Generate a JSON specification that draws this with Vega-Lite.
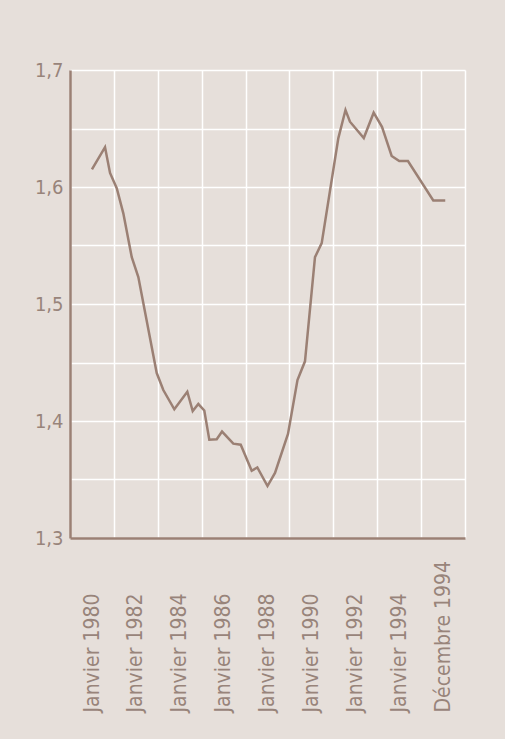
{
  "$schema": "https://vega.github.io/schema/vega-lite/v6.json",
  "width": 395,
  "height": 468,
  "autosize": {"type": "none"},
  "padding": {"left": 70, "top": 70, "right": 40, "bottom": 201},
  "background": "#e6dfda",
  "config": {
    "view": {"stroke": null},
    "font": "'DejaVu Sans Condensed', 'Liberation Sans Narrow', sans-serif"
  },
  "data": {
    "values": [
      {"t": 0.0, "v": 1.615},
      {"t": 0.298, "v": 1.634},
      {"t": 0.412, "v": 1.612},
      {"t": 0.565, "v": 1.599},
      {"t": 0.715, "v": 1.5775},
      {"t": 0.907, "v": 1.540},
      {"t": 1.057, "v": 1.523},
      {"t": 1.476, "v": 1.441},
      {"t": 1.626, "v": 1.4265},
      {"t": 1.877, "v": 1.410},
      {"t": 2.173, "v": 1.425},
      {"t": 2.296, "v": 1.4085},
      {"t": 2.424, "v": 1.4145},
      {"t": 2.560, "v": 1.409},
      {"t": 2.674, "v": 1.384},
      {"t": 2.843, "v": 1.3844},
      {"t": 2.964, "v": 1.391},
      {"t": 3.221, "v": 1.3806},
      {"t": 3.390, "v": 1.3797},
      {"t": 3.640, "v": 1.3575},
      {"t": 3.768, "v": 1.3603},
      {"t": 4.0, "v": 1.3444},
      {"t": 4.171, "v": 1.3556},
      {"t": 4.467, "v": 1.389},
      {"t": 4.683, "v": 1.435},
      {"t": 4.854, "v": 1.451},
      {"t": 5.082, "v": 1.540},
      {"t": 5.235, "v": 1.552},
      {"t": 5.613, "v": 1.6416},
      {"t": 5.777, "v": 1.6658},
      {"t": 5.879, "v": 1.6558},
      {"t": 6.194, "v": 1.6419},
      {"t": 6.419, "v": 1.6635},
      {"t": 6.608, "v": 1.6515},
      {"t": 6.829, "v": 1.6265},
      {"t": 7.002, "v": 1.6222},
      {"t": 7.200, "v": 1.6222},
      {"t": 7.777, "v": 1.5885},
      {"t": 8.05, "v": 1.5885}
    ]
  },
  "mark": {"type": "line", "color": "#9b8074", "strokeWidth": 2.5},
  "encoding": {
    "x": {
      "field": "t",
      "type": "quantitative",
      "scale": {"domain": [-0.5, 8.5], "nice": false, "zero": false},
      "axis": {
        "title": null,
        "values": [-0.5, 0.5, 1.5, 2.5, 3.5, 4.5, 5.5, 6.5, 7.5, 8.5],
        "labelExpr": "datum.value < 8 ? ['Janvier 1980','Janvier 1982','Janvier 1984','Janvier 1986','Janvier 1988','Janvier 1990','Janvier 1992','Janvier 1994','Décembre 1994'][round(datum.value + 0.5)] : ''",
        "labelOffset": 22,
        "labelAngle": 270,
        "labelAlign": "left",
        "labelBaseline": "middle",
        "labelPadding": 174,
        "labelFontSize": 21,
        "labelColor": "#98847a",
        "labelLimit": 0,
        "labelFlush": false,
        "labelOverlap": false,
        "labelBound": false,
        "ticks": false,
        "grid": true,
        "gridColor": "#ffffff",
        "gridWidth": 1.5,
        "gridOpacity": 1,
        "domainColor": "#9b8074",
        "domainWidth": 2.5
      }
    },
    "y": {
      "field": "v",
      "type": "quantitative",
      "scale": {"domain": [1.3, 1.7], "nice": false, "zero": false},
      "axis": {
        "title": null,
        "values": [1.3, 1.35, 1.4, 1.45, 1.5, 1.55, 1.6, 1.65, 1.7],
        "labelExpr": "abs(datum.value * 10 - round(datum.value * 10)) < 0.001 ? replace(format(datum.value, '.1f'), '.', ',') : ''",
        "labelFontSize": 20,
        "labelColor": "#98847a",
        "labelPadding": 7,
        "labelOverlap": false,
        "labelFlush": false,
        "ticks": false,
        "grid": true,
        "gridColor": "#ffffff",
        "gridWidth": 1.5,
        "gridOpacity": 1,
        "domainColor": "#9b8074",
        "domainWidth": 2.5
      }
    }
  }
}
